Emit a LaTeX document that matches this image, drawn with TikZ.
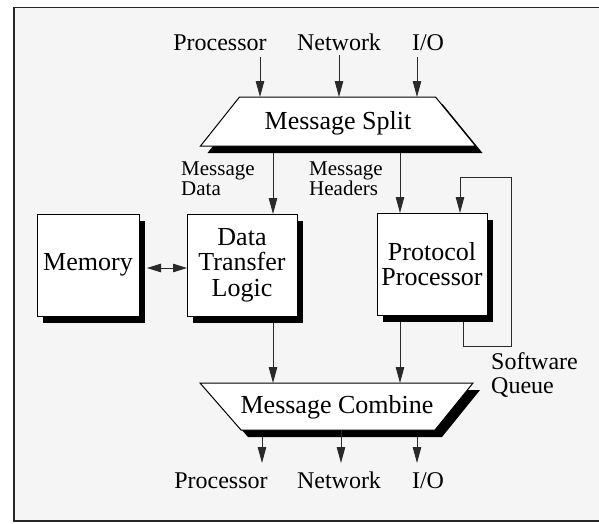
\documentclass[tikz,border=0pt]{standalone}
\usepackage{fontspec}
\setmainfont{Liberation Serif}
\usetikzlibrary{arrows.meta,shadows,calc}
\definecolor{bgray}{HTML}{F5F5F5}
\definecolor{lgray}{HTML}{2A2A2A}
\begin{document}
\begin{tikzpicture}[x=1pt,y=-1pt,
  shade6/.style={drop shadow={shadow xshift=6pt,shadow yshift=-7pt,fill=black,opacity=1}},
  blk/.style={draw=black,fill=white,line width=1pt,minimum width=#1,minimum height=102pt,
    inner sep=0pt,outer sep=0pt,align=center,font=\fontsize{26}{25.5}\selectfont,shade6},
  trapline/.style={draw=black,fill=white,line width=1pt,line join=miter},
  trapshadow/.style={fill=black},
  traptext/.style={inner sep=0pt,font=\fontsize{26}{26}\selectfont},
  lbl/.style={inner sep=0pt,font=\fontsize{24}{24}\selectfont},
  small/.style={inner sep=0pt,align=left,font=\fontsize{21}{20}\selectfont},
  arr/.style={draw=lgray,line width=0.9pt,-{Triangle[length=16pt,width=8.5pt]}},
  dbl/.style={draw=lgray,line width=0.9pt,{Triangle[length=14pt,width=8.5pt]}-{Triangle[length=14pt,width=8.5pt]}},
  wire/.style={draw=lgray,line width=0.9pt}]
% canvas and frame
\fill[white] (0,0) rectangle (599,523);
\useasboundingbox (0,0) rectangle (599,523);
\fill[bgray] (13,7) rectangle (599,522);
\draw[line width=1.6pt,black!85] (599,7.6) -- (13.8,7.6) -- (13.8,521.2) -- (599,521.2);

% Message Split trapezoid
\fill[trapshadow] (246.5,104) -- (442.5,104) -- (482.5,153) -- (207.5,153) -- cycle;
\path[trapline] (239.5,97) -- (435.5,97) -- (475.5,146) -- (200.5,146) -- cycle;
\node[traptext,anchor=base] (split) at (338,129.5) {Message Split};
\coordinate (splitT) at (338,97);
\coordinate (splitB) at (338,146);

% Message Combine trapezoid
\fill[trapshadow] (207,390) -- (480,390) -- (442,437) -- (248,437) -- cycle;
\path[trapline] (200,383) -- (473,383) -- (435,430) -- (241,430) -- cycle;
\node[traptext,anchor=base] (comb) at (337,413) {Message Combine};
\coordinate (combT) at (337,383);
\coordinate (combB) at (337,430);

% blocks
\node[blk=102pt] (mem) at (88,265) {Memory};
\node[blk=110pt] (dtl) at (242,265) {Data\\Transfer\\Logic};
\node[blk=110pt] (pp) at (432,264) {Protocol\\Processor};

% top labels and inputs
\node[lbl,anchor=base] (tP) at (220,50) {Processor};
\node[lbl,anchor=base] (tN) at (339,50) {Network};
\node[lbl,anchor=base] (tI) at (428,50) {I/O};
\coordinate (aP) at (260,57);
\coordinate (aN) at (339,55);
\coordinate (aI) at (417,57);
\draw[arr] (aP) -- (aP |- splitT);
\draw[arr] (aN) -- (aN |- splitT);
\draw[arr] (aI) -- (aI |- splitT);

% split outputs
\node[small,anchor=base west] (md) at (181,195) {Message\\Data};
\node[small,anchor=base west] (mh) at (309,195) {Message\\Headers};
\coordinate (xd) at (273,0);
\coordinate (xh) at (400,0);
\draw[arr] ([yshift=-7pt]xd |- splitB) -- (xd |- dtl.north);
\draw[arr] ([yshift=-7pt]xh |- splitB) -- (xh |- pp.north);

% memory link
\draw[dbl] ([shift={(8,3)}]mem.east) -- ([shift={(0,3)}]dtl.west);

% software queue loop
\coordinate (qo) at (463,0);
\coordinate (qi) at (460,0);
\coordinate (qc1) at (463,346);
\coordinate (qc2) at (511,346);
\coordinate (qc3) at (511,177);
\coordinate (qc4) at (460,177);
\draw[wire] ([yshift=-7pt]qo |- pp.south) -- (qc1) -- (qc2) -- (qc3) -- (qc4);
\draw[arr] (qc4) -- (qi |- pp.north);
\node[small,anchor=base west,font=\fontsize{24}{24}\selectfont] (sq) at (491,393) {Software\\Queue};

% into combine
\draw[arr] ([yshift=-7pt]xd |- dtl.south) -- (xd |- combT);
\draw[arr] ([yshift=-7pt]xh |- pp.south) -- (xh |- combT);

% outputs
\coordinate (bP) at (262,463);
\coordinate (bN) at (341,463);
\coordinate (bI) at (417,463);
\draw[arr] ([yshift=-7pt]bP |- combB) -- (bP);
\draw[arr] (bN |- combB) -- (bN);
\draw[arr] ([yshift=-7pt]bI |- combB) -- (bI);
\node[lbl,anchor=base] (oP) at (221,488) {Processor};
\node[lbl,anchor=base] (oN) at (339,488) {Network};
\node[lbl,anchor=base] (oI) at (428,488) {I/O};
\end{tikzpicture}
\end{document}
